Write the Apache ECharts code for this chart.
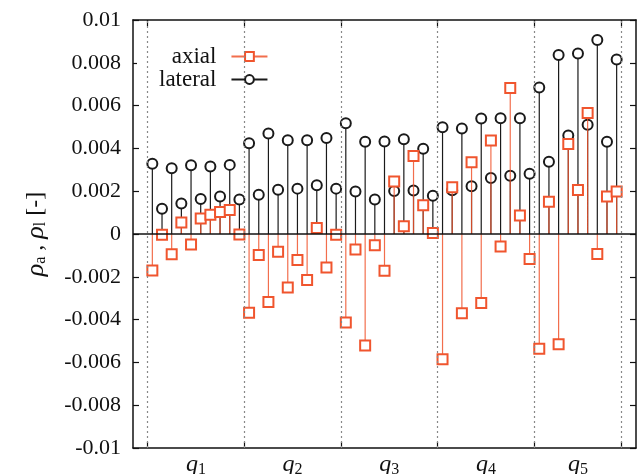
<!DOCTYPE html>
<html>
<head>
<meta charset="utf-8">
<script src="https://cdn.jsdelivr.net/npm/echarts@6/dist/echarts.min.js"></script>
<style>html,body{margin:0;padding:0;background:#fff}#c{width:641px;height:474px}</style>
</head>
<body>
<div id="c"></div>
<script>
// group labels and positions (measurement index, 1-based)
var groupLabels = ['1', '2', '3', '4', '5'];
var groupCenters = [5.5, 15.5, 25.5, 35.5, 45];
var groupBounds = [0.5, 10.5, 20.5, 30.5, 40.5, 49.5];

// axial values (rho_a)
var axial = [
  -0.0017, -0.00003, -0.00095, 0.00054, -0.00049, 0.00072, 0.0009, 0.00103, 0.00112, -0.00002,
  -0.00368, -0.00098, -0.00318, -0.00083, -0.0025, -0.00122, -0.00215, 0.00028, -0.00156, -0.00003,
  -0.00414, -0.00072, -0.00521, -0.00053, -0.00172, 0.00245, 0.00036, 0.00365, 0.00134, 0.00005,
  -0.00585, 0.00218, -0.0037, 0.00335, -0.00323, 0.00437, -0.00058, 0.00682, 0.00087, -0.00117,
  -0.00536, 0.00151, -0.00515, 0.0042, 0.00206, 0.00565, -0.00094, 0.00175, 0.00199
];
// lateral values (rho_l)
var lateral = [
  0.00328, 0.00118, 0.00307, 0.00143, 0.00321, 0.00164, 0.00315, 0.00175, 0.00323, 0.00161,
  0.00424, 0.00183, 0.0047, 0.00207, 0.00438, 0.00212, 0.00438, 0.00228, 0.00449, 0.00212,
  0.00518, 0.00199, 0.00431, 0.00161, 0.00432, 0.00201, 0.00443, 0.00203, 0.00398, 0.00179,
  0.00499, 0.00204, 0.00493, 0.00223, 0.0054, 0.00262, 0.00541, 0.00272, 0.00541, 0.00282,
  0.00685, 0.00338, 0.00836, 0.0046, 0.00844, 0.0051, 0.00906, 0.00431, 0.00815
];

function stems(vals) {
  var out = [];
  vals.forEach(function (v, i) {
    var x = i + 1;
    out.push({ value: [x, 0], symbol: 'none' });
    out.push({ value: [x, v] });
    out.push({ value: [x, '-'], symbol: 'none' });
  });
  return out;
}

var SERIF = "'Liberation Serif', 'DejaVu Serif', serif";
var chart = echarts.init(document.getElementById('c'), null, { renderer: 'canvas' });
chart.setOption({
  animation: false,
  backgroundColor: '#fff',
  grid: { left: 133, right: 5, top: 20, bottom: 26, containLabel: false, outerBoundsMode: 'none' },
  legend: {
    orient: 'vertical',
    align: 'right',
    left: 137,
    top: 43,
    padding: [2, 6, 4, 22],
    itemGap: 0,
    itemWidth: 36,
    itemHeight: 11,
    backgroundColor: '#fff',
    textStyle: { fontFamily: SERIF, fontSize: 23, color: '#111', lineHeight: 23, padding: [0, 10, 0, 0] },
    data: ['axial', 'lateral']
  },
  xAxis: [{
    type: 'value', min: -1, max: 51, position: 'bottom',
    axisLine: { show: true, onZero: false, lineStyle: { color: '#111', width: 1.5 } },
    axisTick: { show: true, inside: true, length: 6, customValues: groupBounds, lineStyle: { color: '#111', width: 1.2 } },
    axisLabel: {
      show: true, customValues: groupCenters, margin: 4,
      formatter: function (v) {
        var idx = groupCenters.indexOf(v);
        return '{q|q}{s|' + groupLabels[idx] + '}';
      },
      rich: {
        q: { fontFamily: SERIF, fontStyle: 'italic', fontSize: 24, color: '#111' },
        s: { fontFamily: SERIF, fontSize: 16, color: '#111', padding: [10, 0, 0, 0] }
      }
    },
    splitLine: { show: false }
  }, {
    type: 'value', min: -1, max: 51, position: 'top',
    axisLine: { show: true, onZero: false, lineStyle: { color: '#111', width: 1.5 } },
    axisTick: { show: true, inside: true, length: 6, customValues: groupBounds, lineStyle: { color: '#111', width: 1.2 } },
    axisLabel: { show: false },
    splitLine: { show: false }
  }],
  yAxis: [{
    type: 'value', min: -0.01, max: 0.01, interval: 0.002, position: 'left',
    name: '{r|ρ}{sub|a}{n| , }{r|ρ}{sub|l}{n| [-]}',
    nameLocation: 'middle', nameRotate: 90, nameGap: 84,
    nameTextStyle: {
      rich: {
        r: { fontFamily: SERIF, fontStyle: 'italic', fontSize: 26, color: '#111' },
        sub: { fontFamily: SERIF, fontSize: 16, color: '#111', padding: [10, 0, 0, 0] },
        n: { fontFamily: SERIF, fontSize: 24, color: '#111' }
      }
    },
    axisLine: { show: true, onZero: false, lineStyle: { color: '#111', width: 1.5 } },
    axisTick: { show: true, inside: true, length: 6, lineStyle: { color: '#111', width: 1.2 } },
    axisLabel: { fontFamily: SERIF, fontSize: 22, color: '#111', margin: 12 },
    splitLine: { show: false }
  }, {
    type: 'value', min: -0.01, max: 0.01, interval: 0.002, position: 'right',
    axisLine: { show: true, onZero: false, lineStyle: { color: '#111', width: 1.5 } },
    axisTick: { show: true, inside: true, length: 6, lineStyle: { color: '#111', width: 1.2 } },
    axisLabel: { show: false },
    splitLine: { show: false }
  }],
  series: [{
    name: 'lateral',
    type: 'line',
    xAxisIndex: 0, yAxisIndex: 0,
    data: stems(lateral),
    connectNulls: false,
    symbol: 'emptyCircle',
    symbolSize: 10,
    showSymbol: true,
    lineStyle: { color: '#1a1a1a', width: 1.2 },
    itemStyle: { color: '#1a1a1a', borderColor: '#1a1a1a', borderWidth: 1.1 },
    markLine: {
      silent: true, symbol: 'none', label: { show: false },
      lineStyle: { color: '#888', type: [2, 3], width: 1.2 },
      data: groupBounds.map(function (b) { return { xAxis: b }; })
    },
    z: 2
  }, {
    name: 'axial',
    type: 'line',
    xAxisIndex: 0, yAxisIndex: 0,
    data: stems(axial),
    connectNulls: false,
    symbol: 'emptyRect',
    symbolSize: 10,
    showSymbol: true,
    lineStyle: { color: '#f0552e', width: 1.2, opacity: 0.85 },
    itemStyle: { color: '#f0552e', borderColor: '#f0552e', borderWidth: 1.2 },
    markLine: {
      silent: true, symbol: 'none', label: { show: false },
      lineStyle: { color: '#111', type: 'solid', width: 1.5 },
      data: [{ yAxis: 0 }]
    },
    z: 3
  }]
});
</script>
</body>
</html>
